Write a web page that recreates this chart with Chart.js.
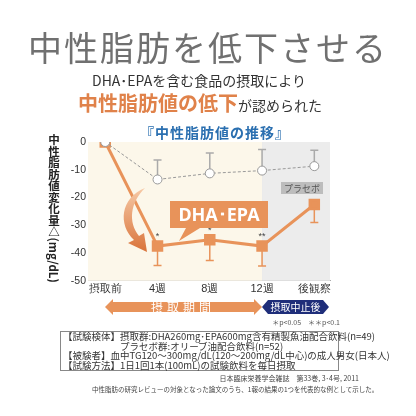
<!DOCTYPE html><html><head><meta charset="utf-8">
<script src="https://cdn.jsdelivr.net/npm/chart.js@4"></script>
<style>
body{margin:0;width:416px;height:416px;position:relative;background:#fff;font-family:"Noto Sans CJK JP",sans-serif;overflow:hidden}
.t{position:absolute;white-space:nowrap}
canvas{position:absolute;left:0;top:0}
</style></head><body>
<canvas id="c" width="416" height="416"></canvas>
<div class="t" style="left:0;width:416px;text-align:center;top:22px;font-size:34px;color:#707070;letter-spacing:2px;font-weight:400">中性脂肪を低下させる</div>
<div class="t" style="left:92px;top:70px;font-size:14px;color:#333">DHA･EPAを含む食品の摂取により</div>
<div class="t" style="left:78px;top:88px;font-size:20px;color:#e0824a;font-weight:bold">中性脂肪値の低下<span style="font-size:14px;color:#333;font-weight:normal">が認められた</span></div>
<div class="t" style="left:140px;top:122px;font-size:14px;color:#2a6fb0;font-weight:bold;letter-spacing:1px">『中性脂肪値の推移』</div>
<div class="t" style="left:46px;top:134px;width:16px;font-size:11.5px;line-height:16px;font-weight:bold;color:#222;writing-mode:vertical-rl">中性脂肪値変化量△(mg/dL)</div>
<svg style="position:absolute;left:0;top:0" width="416" height="416">
 <defs><linearGradient id="g" x1="0" y1="0" x2="0" y2="1"><stop offset="0" stop-color="#f6c9a6"/><stop offset="1" stop-color="#d9733a"/></linearGradient></defs>
 <path d="M145,188 C120,198 118,225 134,240 L128,243 L147,252 L144,233 L139,236 C128,222 130,203 145,188Z" fill="url(#g)"/>
 <path d="M170,201 L268,201 L268,228 L200,228 L179,241 L186,228 L170,228Z" fill="#e8935a"/>
 <text x="219" y="221" text-anchor="middle" fill="#fff" font-size="18" font-weight="bold" font-family="Noto Sans">DHA･EPA</text>
 <rect x="281" y="182" width="42" height="12" fill="#bdbdbd"/>
 <text x="302" y="192" text-anchor="middle" fill="#555" font-size="9">プラセボ</text>
 <path d="M105,307 L113,299 L113,302 L254,302 L254,299 L262,307 L254,315 L254,312 L113,312 L113,315Z" fill="#e8935a"/>
 <text x="183" y="311.5" text-anchor="middle" fill="#fff" font-size="12" letter-spacing="4">摂取期間</text>
 <path d="M262,307 L268,300 L323,300 L329,307 L323,314 L268,314Z" fill="#1f2e7a"/>
 <text x="295.5" y="311" text-anchor="middle" fill="#fff" font-size="10">摂取中止後</text>
 <text x="340" y="325" text-anchor="end" fill="#555" font-size="7">＊p&lt;0.05　＊＊p&lt;0.1</text>
 <rect x="60.5" y="331.5" width="278" height="39" fill="none" stroke="#888"/>
</svg>
<div class="t" style="left:63px;top:332px;font-size:9.5px;line-height:9.6px;color:#333">【試験検体】摂取群:DHA260mg･EPA600mg含有精製魚油配合飲料(n=49)<br>　　　　　　プラセボ群:オリーブ油配合飲料(n=52)<br>【被験者】血中TG120～300mg/dL(120～200mg/dL中心)の成人男女(日本人)<br>【試験方法】1日1回1本(100mL)の試験飲料を毎日摂取</div>
<div class="t" style="right:57px;top:373px;font-size:7px;color:#444">日本臨床栄養学会雑誌　第33巻, 3･4号, 2011</div>
<div class="t" style="left:92px;top:384px;font-size:6.5px;color:#444">中性脂肪の研究レビューの対象となった論文のうち、1報の結果の1つを代表的な例として示した。</div>
<script>
const categories=["摂取前","4週","8週","12週","後観察"];
const placebo=[0,-13.5,-11.3,-10.3,-8.7];
const placeboErr=[0,7,7.3,7.6,5.7];
const dha=[0,-37.5,-35.2,-37.5,-22.5];
const dhaErr=[0,7,7.5,7.2,6.5];
const marks=["","*","*","**",""];
const pts=a=>a.map((v,i)=>({x:i,y:v}));
const deco={id:'deco',
 beforeDatasetsDraw(ch){const {ctx,chartArea:a,scales:{x,y}}=ch;ctx.save();
  const xs=x.getPixelForValue(3);
  ctx.fillStyle='#fcf7ea';ctx.fillRect(a.left,a.top,xs-a.left,a.bottom-a.top);
  ctx.fillStyle='#ececec';ctx.fillRect(xs,a.top,a.right-xs,a.bottom-a.top);
  ctx.lineWidth=1.5;
  placebo.forEach((v,i)=>{if(!placeboErr[i])return;const px=x.getPixelForValue(i);ctx.strokeStyle='#aaa';
   ctx.beginPath();ctx.moveTo(px,y.getPixelForValue(v));ctx.lineTo(px,y.getPixelForValue(v+placeboErr[i]));
   ctx.moveTo(px-4,y.getPixelForValue(v+placeboErr[i]));ctx.lineTo(px+4,y.getPixelForValue(v+placeboErr[i]));ctx.stroke();});
  dha.forEach((v,i)=>{if(!dhaErr[i])return;const px=x.getPixelForValue(i);ctx.strokeStyle='#e8935a';
   ctx.beginPath();ctx.moveTo(px,y.getPixelForValue(v));ctx.lineTo(px,y.getPixelForValue(v-dhaErr[i]));
   ctx.moveTo(px-4,y.getPixelForValue(v-dhaErr[i]));ctx.lineTo(px+4,y.getPixelForValue(v-dhaErr[i]));ctx.stroke();});
  ctx.fillStyle='#444';ctx.font='9px sans-serif';ctx.textAlign='center';
  marks.forEach((m,i)=>{if(m)ctx.fillText(m,x.getPixelForValue(i),y.getPixelForValue(dha[i])-7);});
  ctx.restore();}};
new Chart(document.getElementById('c'),{type:'line',
 data:{datasets:[
  {data:pts(placebo),borderColor:'#999',borderWidth:1,borderDash:[3,2],pointStyle:'circle',pointRadius:4.5,pointBackgroundColor:'#fff',pointBorderColor:'#999',pointBorderWidth:1},
  {data:pts(dha),borderColor:'#e8935a',borderWidth:3,pointStyle:'rect',pointRadius:6,pointBackgroundColor:'#e8935a',pointBorderColor:'#e8935a'}]},
 options:{responsive:false,animation:false,plugins:{legend:{display:false},tooltip:{enabled:false}},
  layout:{padding:{left:0,right:86,top:142,bottom:118}},
  scales:{x:{type:'linear',min:-0.33,max:4.3,afterBuildTicks:s=>{s.ticks=categories.map((c,i)=>({value:i}))},
    ticks:{callback:(v)=>categories[v],color:'#333',font:{size:11},padding:2},grid:{color:'#e4e4e4',drawTicks:false},border:{color:'#aaa'}},
   y:{min:-50,max:0,afterFit:s=>{s.width=88},
    ticks:{stepSize:10,color:'#333',font:{size:10.5},padding:2},grid:{display:false,drawTicks:false},border:{color:'#aaa'}}}},
 plugins:[deco]});
</script></body></html>
